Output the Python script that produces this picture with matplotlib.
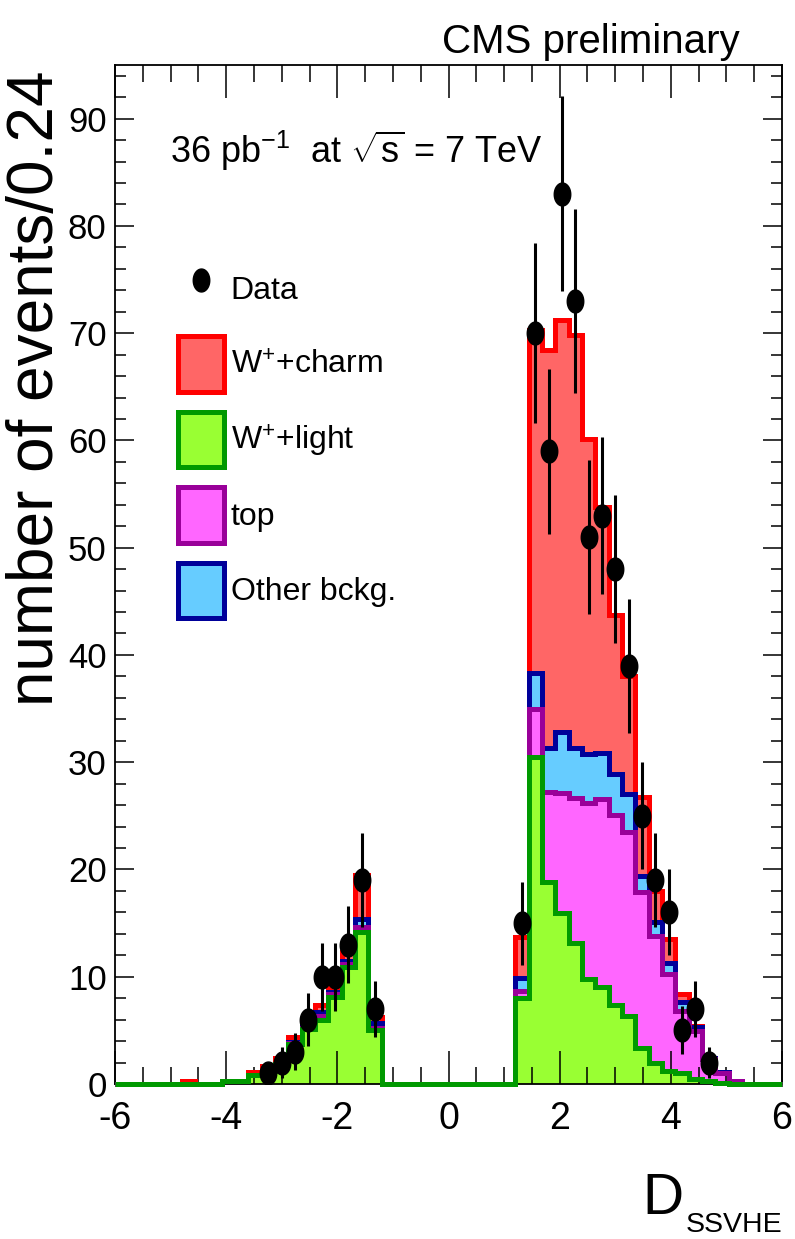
import numpy as np
import matplotlib
matplotlib.use("Agg")
import matplotlib.pyplot as plt
from matplotlib import font_manager
from matplotlib.path import Path
from matplotlib.patches import Patch
from matplotlib.lines import Line2D
from matplotlib.ticker import MultipleLocator

installed = {f.name for f in font_manager.fontManager.ttflist}
SANS = "Liberation Sans" if "Liberation Sans" in installed else "DejaVu Sans"

plt.rcParams["font.family"] = [SANS, "DejaVu Sans"]
plt.rcParams["axes.unicode_minus"] = False
plt.rcParams["mathtext.fontset"] = "custom"
plt.rcParams["mathtext.rm"] = SANS
plt.rcParams["mathtext.it"] = SANS + ":italic"
plt.rcParams["mathtext.bf"] = SANS + ":bold"

# Binning of the discriminator
x_min, x_max, n_bins = -6.0, 6.0, 50

# Observed events per bin
data_counts = [0, 0, 0, 0, 0, 0, 0, 0, 0, 0,
               0, 1, 2, 3, 6, 10, 10, 13, 19, 7,
               0, 0, 0, 0, 0, 0, 0, 0, 0, 0,
               15, 70, 59, 83, 73, 51, 53, 48, 39, 25,
               19, 16, 5, 7, 2, 0, 0, 0, 0, 0]

# Expected contributions per bin
w_light = [0, 0, 0, 0, 0, 0, 0, 0, 0.3, 0.3,
           0.8, 1.2, 1.9, 3.7, 5.1, 6.0, 8.1, 10.9, 14.2, 5.0,
           0, 0, 0, 0, 0, 0, 0, 0, 0, 0,
           8.0, 30.5, 18.8, 15.9, 13.1, 9.8, 9.0, 7.4, 6.3, 3.4,
           2.0, 1.2, 1.0, 0.5, 0.3, 0.1, 0, 0, 0, 0]

top_quark = [0, 0, 0, 0, 0, 0, 0, 0, 0, 0,
             0, 0, 0, 0.1, 0.1, 0.3, 0.3, 0.3, 0.4, 0.2,
             0, 0, 0, 0, 0, 0, 0, 0, 0, 0,
             0.7, 4.5, 8.4, 11.2, 13.6, 16.4, 17.6, 17.7, 17.2, 14.5,
             11.8, 9.1, 5.8, 4.4, 2.0, 0.95, 0.3, 0, 0, 0]

other_bkg = [0, 0, 0, 0, 0, 0, 0, 0, 0, 0,
             0, 0, 0, 0.1, 0.2, 0.4, 0.2, 0.3, 0.8, 0.5,
             0, 0, 0, 0, 0, 0, 0, 0, 0, 0,
             1.2, 3.3, 4.1, 5.7, 4.6, 4.6, 4.3, 3.8, 3.5, 1.5,
             1.3, 1.0, 0.8, 0.4, 0.1, 0.05, 0, 0, 0, 0]

w_charm = [0, 0, 0, 0, 0, 0.3, 0, 0, 0, 0,
           0.3, 0.5, 0.5, 0.5, 0.6, 0.7, 0.4, 0.8, 4.1, 0.5,
           0, 0, 0, 0, 0, 0, 0, 0, 0, 0,
           3.8, 32.0, 37.1, 38.4, 38.5, 29.3, 22.9, 14.8, 11.0, 7.4,
           2.9, 2.2, 0.8, 0.1, 0, 0, 0, 0, 0, 0]

legend_labels = ["Data", "W$^{+}$+charm", "W$^{+}$+light", "top", "Other bckg."]

# (fill, outline) colours of each component
col_charm = ("#ff6666", "#ff0000")
col_light = ("#99ff33", "#009900")
col_top = ("#ff66ff", "#990099")
col_other = ("#66ccff", "#000099")

edges = np.linspace(x_min, x_max, n_bins + 1)
centers = 0.5 * (edges[:-1] + edges[1:])

light = np.array(w_light)
stack_top = light + np.array(top_quark)
stack_other = stack_top + np.array(other_bkg)
stack_charm = stack_other + np.array(w_charm)

W, H = 795, 1239
fig = plt.figure(figsize=(W / 100, H / 100), dpi=100)
ax = fig.add_axes([115 / W, 1 - 1084 / H, 667 / W, (1084 - 65) / H])
ax.set_axisbelow(False)

# Stack drawn from the total downwards, each layer over the previous one
for vals, (fc, ec) in [(stack_charm, col_charm), (stack_other, col_other),
                       (stack_top, col_top), (light, col_light)]:
    ax.stairs(vals, edges, baseline=0, fill=True, color=fc, zorder=2, lw=0)
    ax.stairs(vals, edges, baseline=0, fill=False, edgecolor=ec,
              linewidth=3.6, zorder=2.6, clip_on=False)

# Data points with Poisson errors
counts = np.array(data_counts, dtype=float)
mask = counts > 0
t = np.linspace(0, 2 * np.pi, 64)
ellipse = Path(np.column_stack([0.72 * np.cos(t), np.sin(t)]), closed=True)
ax.errorbar(centers[mask], counts[mask], yerr=np.sqrt(counts[mask]), fmt="none",
            ecolor="black", elinewidth=2.2, capsize=0, zorder=4)
ax.plot(centers[mask], counts[mask], linestyle="none", marker=ellipse,
        markersize=16.5, color="black", zorder=5)

ax.set_xlim(x_min, x_max)
ax.set_ylim(0, 95)
ax.xaxis.set_major_locator(MultipleLocator(2))
ax.xaxis.set_minor_locator(MultipleLocator(0.5))
ax.yaxis.set_major_locator(MultipleLocator(10))
ax.yaxis.set_minor_locator(MultipleLocator(2))
ax.tick_params(which="both", direction="in", top=True, right=True, width=1.1)
ax.tick_params(axis="x", which="major", length=24, pad=12, labelsize=27)
ax.tick_params(axis="x", which="minor", length=12)
ax.tick_params(axis="y", which="major", length=14, pad=6, labelsize=25)
ax.tick_params(axis="y", which="minor", length=8)
for sp in ax.spines.values():
    sp.set_linewidth(1.3)

# Legend
handles = [Line2D([], [], linestyle="none", marker=ellipse, markersize=16.5, color="black")]
for fc, ec in [col_charm, col_light, col_top, col_other]:
    handles.append(Patch(facecolor=fc, edgecolor=ec, linewidth=3.6))
fs_leg = 23
ax.legend(handles, legend_labels, loc="upper left",
          bbox_to_anchor=((178 - 115) / 667, (1084 - 261) / 1019),
          frameon=False, fontsize=fs_leg, handlelength=1.45, handleheight=2.3,
          handletextpad=0.2, labelspacing=0.62, borderpad=0, borderaxespad=0)

# Titles and labels
fig.text(740 / W, 1 - 53 / H, "CMS preliminary", ha="right", va="baseline", fontsize=29)
fig.text(170 / W, 1 - 163 / H, r"36 pb$^{-1}$  at $\sqrt{\mathrm{s}}$ = 7 TeV",
         ha="left", va="baseline", fontsize=26)
fig.text(66 / W, 1 - 70 / H, "number of events/0.24", rotation=90, ha="right",
         va="top", fontsize=46)
fig.text(642 / W, 1 - 1214 / H, "D", ha="left", va="baseline", fontsize=41)
fig.text(686 / W, 1 - 1232 / H, "SSVHE", ha="left", va="baseline", fontsize=20.5)

fig.savefig("out.png", dpi=100)
